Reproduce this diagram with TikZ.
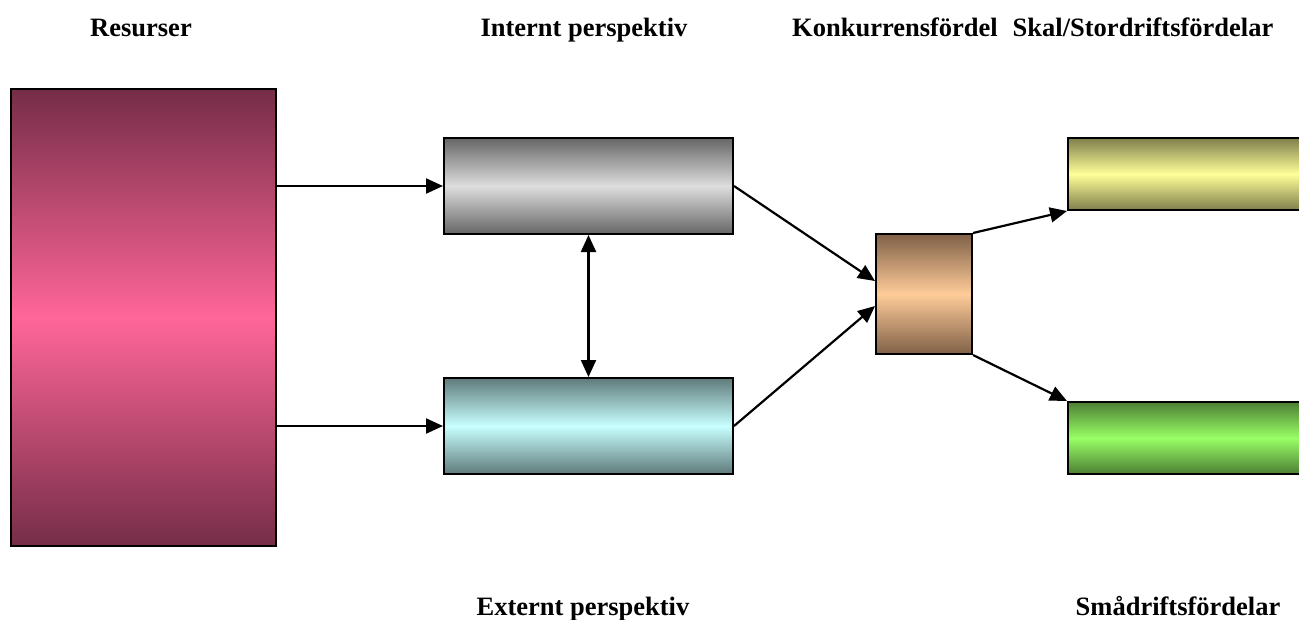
\documentclass[tikz,border=0pt]{standalone}
\usepackage{fontspec}
\setmainfont{Liberation Serif}
\usetikzlibrary{arrows.meta,calc}

\definecolor{resDark}{HTML}{752D47}
\definecolor{resLight}{HTML}{FF6699}
\definecolor{intDark}{HTML}{666666}
\definecolor{intLight}{HTML}{DDDDDD}
\definecolor{extDark}{HTML}{5F7A7A}
\definecolor{extLight}{HTML}{C8FFFF}
\definecolor{konDark}{HTML}{7F6047}
\definecolor{konLight}{HTML}{FFCC99}
\definecolor{yelDark}{HTML}{7F7F4C}
\definecolor{yelLight}{HTML}{FFFF99}
\definecolor{grnDark}{HTML}{4C7F33}
\definecolor{grnLight}{HTML}{99FF66}

\tikzset{
  block/.style={rectangle, draw=black, line width=2pt, inner sep=0pt, anchor=north west},
  fade/.style 2 args={top color=#1, bottom color=#1, middle color=#2},
  label/.style={font=\fontsize{26.5}{30}\selectfont\bfseries, anchor=base, inner sep=0pt},
  head/.tip={Triangle[length=17pt,width=15pt]},
  link/.style={line width=2.2pt, -head},
  twoway/.style={line width=2.2pt, head-head}
}

\begin{document}
\begin{tikzpicture}[x=1pt,y=-1pt]
  \useasboundingbox (0,0) rectangle (1299,619);
  \clip (0,0) rectangle (1299,619);

  % headings
  \node[label] (tRes) at (141,36) {Resurser};
  \node[label] (tInt) at (584,36) {Internt perspektiv};
  \node[label] (tKon) at (895,36) {Konkurrensfördel};
  \node[label] (tSkal) at (1143,36) {Skal/Stordriftsfördelar};
  \node[label] (tExt) at (583,615) {Externt perspektiv};
  \node[label] (tSma) at (1178,615) {Smådriftsfördelar};

  % boxes
  \node[block, fade={resDark}{resLight}, minimum width=265pt, minimum height=457pt] (res) at (10,88) {};
  \node[block, fade={intDark}{intLight}, minimum width=289pt, minimum height=96pt] (int) at (443,137) {};
  \node[block, fade={extDark}{extLight}, minimum width=289pt, minimum height=96pt] (ext) at (443,377) {};
  \node[block, fade={konDark}{konLight}, minimum width=96pt, minimum height=120pt] (kon) at (875,233) {};
  \node[block, fade={yelDark}{yelLight}, minimum width=260pt, minimum height=72pt] (yel) at (1067,137) {};
  \node[block, fade={grnDark}{grnLight}, minimum width=260pt, minimum height=72pt] (grn) at (1067,401) {};

  % connectors
  \draw[link] (res.east |- int.west) -- (int.west);
  \draw[link] (res.east |- ext.west) -- (ext.west);
  \draw[twoway] (int.south) -- (ext.north);
  \draw[link] (int.east) -- ([yshift=13pt]kon.west);
  \draw[link] (ext.east) -- ([yshift=-12pt]kon.west);
  \draw[link] (kon.north east) -- (yel.south west);
  \draw[link] (kon.south east) -- (grn.north west);
\end{tikzpicture}
\end{document}
